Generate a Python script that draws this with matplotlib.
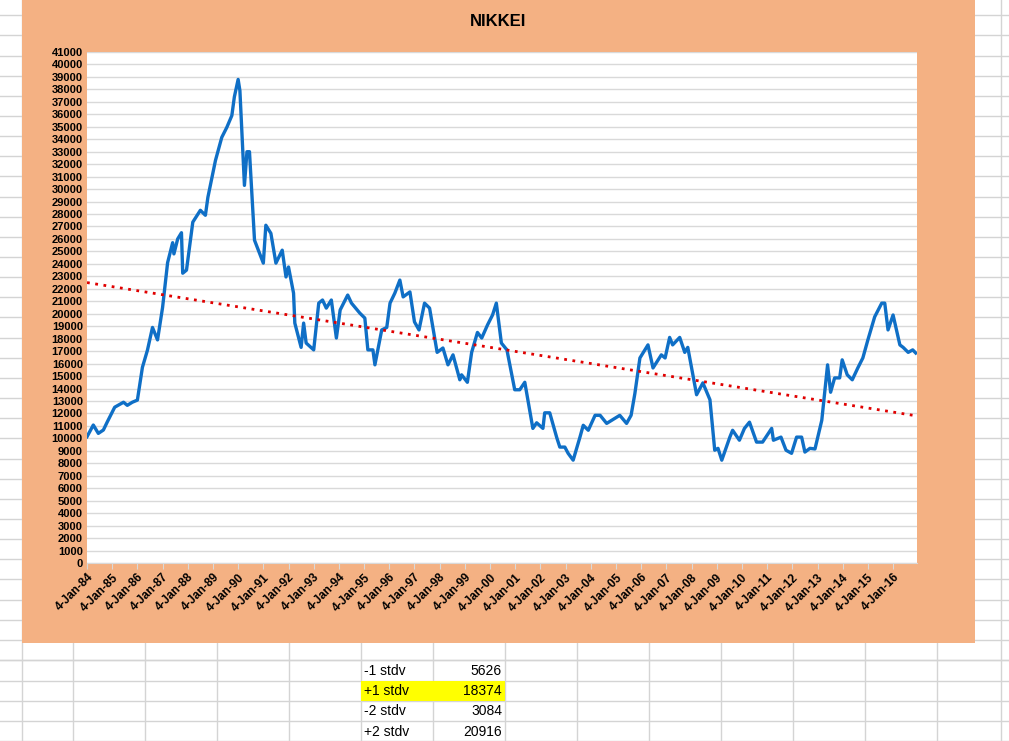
import numpy as np
import matplotlib
matplotlib.use("Agg")
import matplotlib.pyplot as plt
from matplotlib.patches import Rectangle

# ---- data (year fraction, index level) ----
years = [1984.0,1984.25,1984.45,1984.65,1984.8,1985.1,1985.45,1985.6,1985.8,1986.0,1986.2,1986.4,1986.6,1986.8,
 1987.0,1987.2,1987.4,1987.45,1987.6,1987.75,1987.8,1987.95,1988.2,1988.5,1988.7,1988.8,1989.1,1989.35,1989.55,
 1989.75,1989.85,1990.0,1990.07,1990.25,1990.35,1990.45,1990.65,1990.85,1991.0,1991.1,1991.3,1991.5,1991.75,1991.9,
 1992.0,1992.2,1992.25,1992.5,1992.6,1992.7,1993.0,1993.2,1993.35,1993.5,1993.7,1993.9,1994.05,1994.35,1994.5,1994.83,
 1995.03,1995.15,1995.35,1995.43,1995.7,1995.9,1996.03,1996.22,1996.42,1996.55,1996.82,1997.0,1997.18,1997.4,1997.6,
 1997.9,1998.13,1998.33,1998.53,1998.8,1998.87,1999.1,1999.27,1999.5,1999.67,1999.9,2000.1,2000.25,2000.45,2000.67,
 2000.98,2001.18,2001.38,2001.7,2001.85,2002.1,2002.17,2002.37,2002.65,2002.77,2002.97,2003.1,2003.3,2003.57,2003.7,
 2003.9,2004.17,2004.37,2004.63,2005.15,2005.42,2005.6,2005.75,2005.95,2006.27,2006.47,2006.8,2006.95,2007.13,2007.25,
 2007.53,2007.73,2007.85,2008.2,2008.45,2008.73,2008.92,2009.05,2009.2,2009.52,2009.63,2009.9,2010.1,2010.3,2010.58,
 2010.82,2011.18,2011.25,2011.55,2011.75,2011.97,2012.17,2012.37,2012.5,2012.7,2012.9,2013.17,2013.4,2013.52,2013.68,
 2013.88,2013.98,2014.18,2014.38,2014.6,2014.8,2015.0,2015.27,2015.55,2015.67,2015.8,2016.0,2016.27,2016.4,2016.6,
 2016.78,2016.9]
nikkei = [10130,11070,10400,10670,11300,12500,12900,12650,12900,13070,15700,17080,18900,17900,
 20500,24100,25700,24800,26000,26500,23250,23500,27350,28300,27900,29350,32300,34150,34950,
 35900,37400,38800,37900,30300,33000,33000,25900,24850,24060,27100,26450,24060,25100,22950,
 23750,21650,19250,17300,19250,17650,17100,20850,21100,20450,21100,18050,20300,21500,20850,20050,
 19650,17100,17100,15900,18700,18900,20850,21650,22700,21350,21750,19350,18700,20850,20450,
 16900,17250,15900,16700,14700,15100,14500,16900,18500,18050,19100,19900,20850,17650,17100,
 13900,13900,14500,10800,11250,10800,12050,12050,10050,9300,9300,8800,8250,10100,11050,
 10650,11850,11850,11200,11850,11200,11850,13600,16450,17500,15650,16700,16450,18100,17500,
 18100,16900,17300,13500,14450,13100,9050,9200,8250,10100,10650,9850,10800,11300,9700,
 9700,10800,9850,10100,9050,8800,10100,10100,8900,9200,9150,11450,15900,13700,14850,
 14850,16300,15100,14700,15650,16450,17900,19750,20850,20850,18700,19900,17500,17300,16900,
 17100,16850]
trend_years = [1984.0, 2016.95]
trend_values = [22500, 11800]
tick_years = list(range(1984, 2017))
tick_labels = [f"4-Jan-{y % 100:02d}" for y in tick_years]
y_ticks = list(range(0, 41001, 1000))
table_labels = ["-1 stdv", "+1 stdv", "-2 stdv", "+2 stdv"]
table_values = [5626, 18374, 3084, 20916]

W, H = 1009, 741
fig = plt.figure(figsize=(W/100, H/100), dpi=100)

# spreadsheet background
bg = fig.add_axes([0, 0, 1, 1])
bg.set_xlim(0, W); bg.set_ylim(H, 0); bg.axis("off")
gc = "#d4d4d4"
for k in range(0, 40):
    yy = 660 - 20.15 * k
    if yy < 0: break
    bg.plot([0, W], [yy, yy], color=gc, lw=1)
for yy in [660, 680.5, 701, 721, 741]:
    bg.plot([0, W], [yy, yy], color=gc, lw=1)
for xx in [22, 73, 145, 217, 289, 361, 433, 505, 577, 649, 721, 793, 865, 937, 1001]:
    bg.plot([xx, xx], [0, H], color=gc, lw=1)
bg.add_patch(Rectangle((22, 0), 953, 643, facecolor="#F4B183", edgecolor="none", zorder=3))
bg.add_patch(Rectangle((361, 681), 144, 20, facecolor="#FFFF00", edgecolor="none", zorder=3))
for i, (lab, val) in enumerate(zip(table_labels, table_values)):
    yc = 671 + i * 20.2
    bg.text(364, yc, lab, fontsize=10, family="Liberation Sans", va="center", ha="left", zorder=4)
    bg.text(502, yc, str(val), fontsize=10, family="Liberation Sans", va="center", ha="right", zorder=4)
bg.text(498, 21, "NIKKEI", fontsize=12, fontweight="bold", family="Liberation Sans",
        ha="center", va="center", zorder=4)

# chart
ax = fig.add_axes([87/W, (H-563)/H, 830/W, 511/H])
ax.set_facecolor("white")
x = np.array(years); y = np.array(nikkei)
ax.plot(x, y, color="#0F6FC6", lw=2.4, solid_joinstyle="round", zorder=3)
ax.plot(trend_years, trend_values, color="#E00000", lw=2, linestyle=(0, (1, 2)), zorder=4)
ax.set_xlim(trend_years[0], trend_years[1]); ax.set_ylim(0, 41000)
ax.set_yticks(y_ticks)
ax.set_yticklabels([str(v) for v in y_ticks], fontsize=8, fontweight="bold", family="Liberation Sans")
ax.set_xticks(tick_years)
ax.set_xticklabels(tick_labels, rotation=45, ha="right", rotation_mode="anchor",
                   fontsize=8.5, fontweight="bold", family="Liberation Sans")
ax.grid(axis="y", color="#d9d9d9", lw=1)
ax.set_axisbelow(True)
for s in ["top", "right", "left"]:
    ax.spines[s].set_visible(False)
ax.spines["bottom"].set_color("#d9d9d9")
ax.tick_params(axis="y", length=0, pad=3)
ax.tick_params(axis="x", length=4, color="#d9d9d9", pad=2)

fig.savefig("out.png", dpi=100)
